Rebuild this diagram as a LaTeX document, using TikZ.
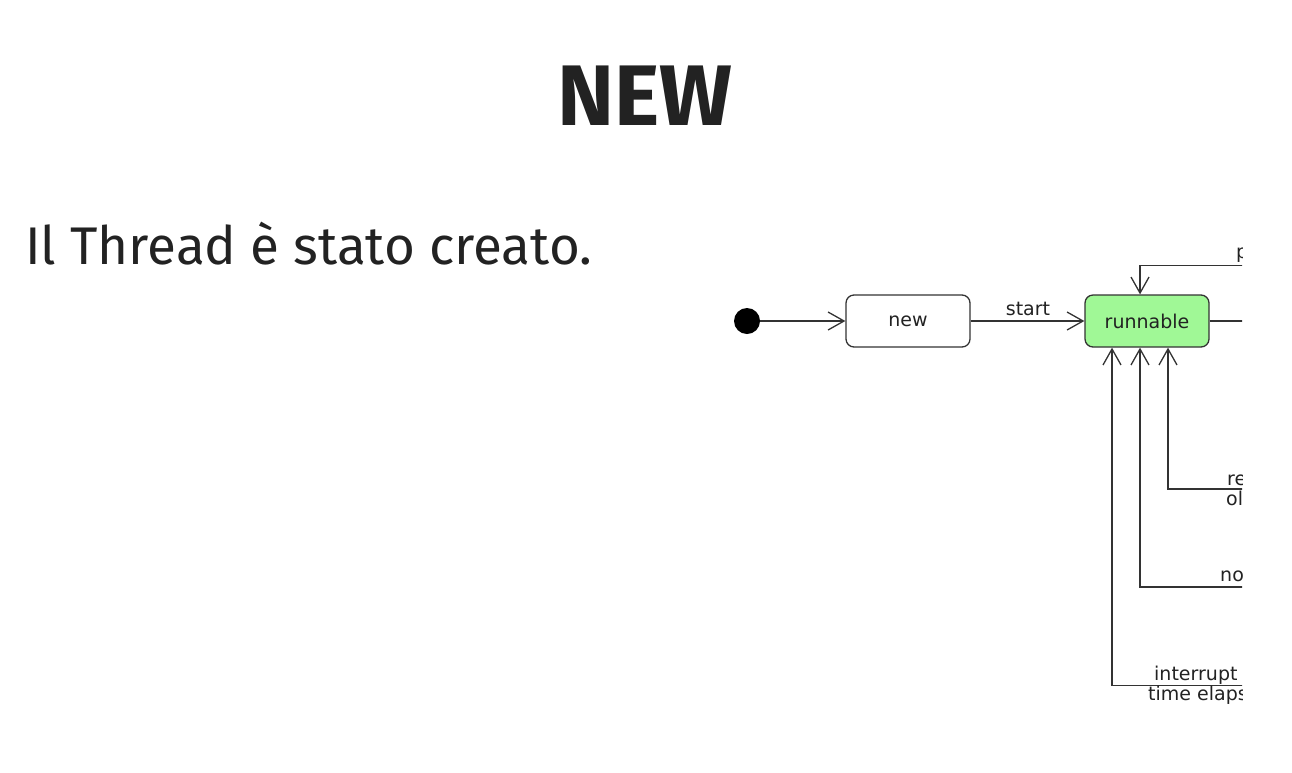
\documentclass[tikz,border=0pt]{standalone}
\usepackage{fontspec}
\setmainfont{Fira Sans}
\newfontfamily\diagfont{DejaVu Sans}
\usetikzlibrary{arrows.meta}
\definecolor{txt}{HTML}{222222}
\definecolor{ln}{HTML}{333333}
\definecolor{rgreen}{RGB}{160,248,150}
\tikzset{
  stbox/.style={draw=ln, line width=1.3pt, rounded corners=8pt, minimum width=124pt, minimum height=52pt, inner sep=0pt, text=txt, font=\diagfont\fontsize{19}{21}\selectfont},
  tr/.style={draw=ln, line width=1.3pt, -{Straight Barb[length=16pt,width=18pt,line width=1.3pt]}},
  plain/.style={draw=ln, line width=1.3pt},
  lbl/.style={inner sep=0pt, text=txt, anchor=base west, font=\diagfont\fontsize{19}{21}\selectfont}
}
\begin{document}
\begin{tikzpicture}[x=1pt,y=-1pt]
\useasboundingbox (0,0) rectangle (1292,772);
\node[anchor=base, inner sep=0pt, text=txt, font=\fontsize{86}{90}\selectfont\bfseries] (title) at (645,125) {NEW};
\node[anchor=base west, inner sep=0pt, text=txt, font=\fontsize{53}{58}\selectfont] (body) at (25,264) {Il Thread è stato creato.};

\node[circle, fill=black, minimum size=26pt, inner sep=0pt] (init) at (747,321) {};
\node[stbox] (new) at (908,321) {\raisebox{-1pt}{new}};
\node[stbox, fill=rgreen] (run) at (1147,321) {\raisebox{-1pt}{runnable}};
\draw[tr] (init) -- (new);
\draw[tr] (new) -- (run);
\node[lbl, anchor=base] (start) at (1028,315) {start};

\begin{scope}
\clip (0,0) rectangle (1242,772);
\coordinate (e0) at (1260,321);
\coordinate (p1) at (1260,265.5);
\coordinate (b1) at (1260,489);
\coordinate (b2) at (1260,587);
\coordinate (b3) at (1260,685.5);
\draw[plain] (run.east) -- (e0);
\draw[tr] (p1) -| ([xshift=-7pt]run.north);
\draw[tr] (b1) -| ([xshift=21pt]run.south);
\draw[tr] (b2) -| ([xshift=-7pt]run.south);
\draw[tr] (b3) -| ([xshift=-35pt]run.south);
\node[lbl] (lp) at (1236,258.5) {p};
\node[lbl] (lre) at (1227,485) {re};
\node[lbl] (lol) at (1226,505) {ol};
\node[lbl] (lno) at (1220,581) {no};
\node[lbl] (lint) at (1154,680) {interrupt};
\node[lbl] (ltime) at (1148,700) {time elaps};
\end{scope}
\end{tikzpicture}
\end{document}
